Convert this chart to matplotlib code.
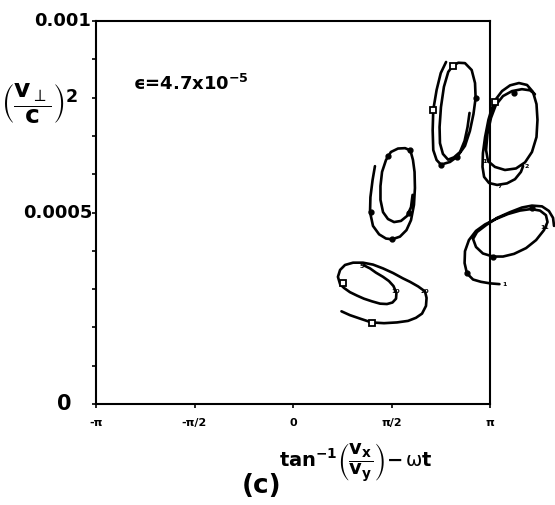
import numpy as np
import matplotlib
matplotlib.use("Agg")
import matplotlib.pyplot as plt

plt.rcParams['font.family'] = ['DejaVu Sans']
plt.rcParams['mathtext.fontset'] = 'dejavusans'
plt.rcParams['mathtext.default'] = 'regular'

# Phase in units of pi, (v_perp/c)^2 in units of 1e-4
traj_a_phase = [0.777, 0.750, 0.729, 0.712, 0.709, 0.712, 0.729, 0.751, 0.797, 0.834,
                0.873, 0.898, 0.916, 0.927, 0.924, 0.907, 0.873, 0.839, 0.811, 0.788,
                0.766, 0.751, 0.744, 0.746, 0.761, 0.787, 0.817, 0.848, 0.871, 0.886, 0.896]
traj_a_v2 = [8.93, 8.64, 8.20, 7.68, 7.15, 6.63, 6.37, 6.25, 6.32, 6.46,
             6.74, 7.13, 7.57, 7.99, 8.38, 8.72, 8.90, 8.91, 8.83, 8.67,
             8.28, 7.75, 7.23, 6.81, 6.53, 6.38, 6.44, 6.58, 6.87, 7.23, 7.60]

traj_b_phase = [1.168, 1.157, 1.127, 1.086, 1.036, 0.995, 0.970, 0.962, 0.964, 0.975,
                0.992, 1.010, 1.030, 1.061, 1.102, 1.147, 1.188, 1.218, 1.236, 1.241,
                1.236, 1.213, 1.178, 1.132, 1.076, 1.025, 0.990, 0.980, 0.987, 1.005,
                1.030, 1.066, 1.112, 1.162, 1.203, 1.228]
traj_b_v2 = [6.21, 6.06, 5.87, 5.76, 5.72, 5.77, 5.93, 6.19, 6.55, 6.97,
             7.42, 7.73, 7.96, 8.17, 8.32, 8.38, 8.33, 8.15, 7.83, 7.42,
             6.97, 6.58, 6.31, 6.15, 6.11, 6.19, 6.34, 6.63, 7.05, 7.47,
             7.81, 8.04, 8.17, 8.22, 8.19, 8.09]

traj_c_phase = [0.416, 0.404, 0.393, 0.391, 0.406, 0.437, 0.472, 0.503, 0.543, 0.576,
                0.599, 0.614, 0.619, 0.617, 0.609, 0.596, 0.569, 0.533, 0.497, 0.472,
                0.452, 0.444, 0.444, 0.457, 0.482, 0.513, 0.548, 0.579, 0.599, 0.607]
traj_c_v2 = [6.21, 5.85, 5.40, 5.01, 4.65, 4.43, 4.32, 4.30, 4.37, 4.54,
             4.80, 5.20, 5.64, 6.06, 6.37, 6.62, 6.68, 6.67, 6.58, 6.37,
             6.06, 5.69, 5.33, 5.01, 4.83, 4.75, 4.78, 4.91, 5.14, 5.46]

traj_d_phase = [0.246, 0.289, 0.340, 0.398, 0.462, 0.528, 0.584, 0.624, 0.655, 0.675,
                0.678, 0.670, 0.635, 0.594, 0.558, 0.508, 0.457, 0.406, 0.355, 0.305,
                0.264, 0.239, 0.228, 0.239, 0.259, 0.289, 0.325, 0.360, 0.401, 0.442,
                0.477, 0.505, 0.523, 0.525, 0.510, 0.487, 0.457, 0.421, 0.391, 0.360]
traj_d_v2 = [2.42, 2.32, 2.23, 2.13, 2.11, 2.13, 2.17, 2.25, 2.36, 2.56,
             2.77, 2.94, 3.07, 3.19, 3.28, 3.42, 3.54, 3.64, 3.69, 3.69,
             3.63, 3.50, 3.32, 3.13, 3.03, 2.92, 2.83, 2.75, 2.68, 2.62,
             2.61, 2.65, 2.75, 2.90, 3.08, 3.21, 3.32, 3.43, 3.54, 3.62]

traj_e_phase = [1.048, 1.000, 0.954, 0.914, 0.883, 0.871, 0.873, 0.893, 0.929, 0.975,
                1.030, 1.091, 1.152, 1.208, 1.254, 1.284, 1.292, 1.274, 1.234, 1.183,
                1.122, 1.066, 1.015, 0.964, 0.929, 0.914, 0.934, 0.980, 1.036, 1.102,
                1.162, 1.213, 1.264, 1.299, 1.320, 1.325]
traj_e_v2 = [3.13, 3.15, 3.19, 3.25, 3.41, 3.68, 3.99, 4.28, 4.52, 4.69,
             4.83, 4.96, 5.05, 5.09, 5.05, 4.93, 4.75, 4.54, 4.28, 4.07,
             3.92, 3.85, 3.85, 3.93, 4.10, 4.31, 4.49, 4.67, 4.86, 5.01,
             5.13, 5.18, 5.16, 5.04, 4.86, 4.65]

# Time markers along the orbits
square_phase = [0.712, 0.811, 1.023, 0.252, 0.399]
square_v2 = [7.68, 8.83, 7.89, 3.15, 2.12]
dot_phase = [0.751, 0.834, 0.927, 0.503, 0.398, 0.590, 0.484, 0.596, 0.882, 1.017, 1.212, 1.123]
dot_v2 = [6.25, 6.46, 7.99, 4.30, 5.01, 4.98, 6.48, 6.63, 3.41, 3.85, 5.13, 8.13]
step_labels = ['5', '10', '20', '2', '7', '17', '1', '11']
step_phase = [0.349, 0.523, 0.670, 1.185, 1.050, 0.983, 1.072, 1.279]
step_v2 = [3.59, 2.93, 2.93, 6.20, 5.68, 6.33, 3.13, 4.62]

xtick_pos = [-1.0, -0.5, 0.0, 0.5, 1.0]
xtick_labels = ['-π', '-π/2', '0', 'π/2', 'π']
ytick_pos = [0.0, 0.0005, 0.001]
ytick_labels = ['0', '0.0005', '0.001']

W, H = 555, 505
fig = plt.figure(figsize=(W / 100, H / 100), dpi=100)
ax = fig.add_axes([96 / W, 1 - 404 / H, 394 / W, 383 / H])
ax.set_xlim(-np.pi, np.pi)
ax.set_ylim(0, 0.001)

for s in ax.spines.values():
    s.set_linewidth(1.5)

line_kw = dict(color='black', lw=1.9, clip_on=False,
               solid_capstyle='round', solid_joinstyle='round')
for ph, v2 in [(traj_a_phase, traj_a_v2), (traj_b_phase, traj_b_v2),
               (traj_c_phase, traj_c_v2), (traj_d_phase, traj_d_v2),
               (traj_e_phase, traj_e_v2)]:
    ax.plot(np.array(ph) * np.pi, np.array(v2) * 1e-4, **line_kw)

ax.plot(np.array(square_phase) * np.pi, np.array(square_v2) * 1e-4, 's',
        ms=4, mfc='white', mec='black', mew=1.3, clip_on=False)
ax.plot(np.array(dot_phase) * np.pi, np.array(dot_v2) * 1e-4, 'o',
        ms=3.5, color='black', clip_on=False)
for lab, ph, v2 in zip(step_labels, step_phase, step_v2):
    ax.text(ph * np.pi, v2 * 1e-4, lab, fontsize=4.5, fontweight='bold',
            ha='center', va='center', clip_on=False)

ax.set_xticks(np.array(xtick_pos) * np.pi)
ax.set_xticklabels(xtick_labels, fontsize=8, fontweight='bold')
ax.tick_params(axis='x', direction='out', length=3, width=1.2, pad=7)
ax.set_yticks(ytick_pos)
ax.set_yticklabels([])
ax.set_yticks(np.arange(0.0001, 0.001, 0.0001), minor=True)
ax.tick_params(axis='y', which='both', direction='out', length=3, width=1.2)

ytr = ax.get_yaxis_transform()
ax.text(-0.012, ytick_pos[2], ytick_labels[2], transform=ytr, ha='right', va='center',
        fontsize=13, fontweight='bold')
ax.text(-0.008, ytick_pos[1], ytick_labels[1], transform=ytr, ha='right', va='center',
        fontsize=13, fontweight='bold')
ax.text(-0.062, ytick_pos[0], ytick_labels[0], transform=ytr, ha='right', va='center',
        fontsize=15, fontweight='bold')

fig.text(40 / W, 1 - 104 / H,
         r'$\left(\dfrac{\mathbf{v}_{\perp}}{\mathbf{c}}\right)^{\mathbf{2}}$',
         ha='center', va='center', fontsize=18)
fig.text(133 / W, 1 - 84 / H, '\u03f5=4.7x10$^{\\mathbf{-5}}$', ha='left', va='center',
         fontsize=13, fontweight='bold')
fig.text(356 / W, 1 - 463 / H,
         r'$\mathbf{tan}^{\mathbf{-1}}\left(\dfrac{\mathbf{v_x}}{\mathbf{v_y}}\right)'
         r'\mathbf{-}\,\omega \mathbf{t}$',
         ha='center', va='center', fontsize=14)
fig.text(262 / W, 1 - 486 / H, '(c)', ha='center', va='center',
         fontsize=19, fontweight='bold')

fig.savefig('out.png', dpi=100)
